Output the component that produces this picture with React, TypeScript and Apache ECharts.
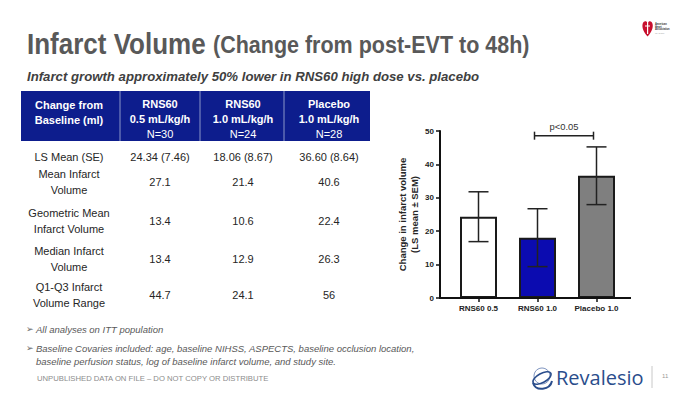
import React, { useEffect, useRef } from 'react';
import * as echarts from 'echarts';

// ---------- data ----------
const categories = ['RNS60 0.5', 'RNS60 1.0', 'Placebo 1.0'];
const lsMean = [24.34, 18.06, 36.6];
const semValues = [7.46, 8.67, 8.64];
const barFills = ['#ffffff', '#0b0bb0', '#7f7f7f'];
const yMin = 0;
const yMax = 50;
const yStep = 10;
const sigPair = [1, 2];
const sigLevel = 48.6;
const sigLabel = 'p<0.05';

const headerCells = [
  ['Change from', 'Baseline (ml)'],
  ['RNS60', '0.5 mL/kg/h', 'N=30'],
  ['RNS60', '1.0 mL/kg/h', 'N=24'],
  ['Placebo', '1.0 mL/kg/h', 'N=28'],
];
const rowLabels = [
  ['LS Mean (SE)'],
  ['Mean Infarct', 'Volume'],
  ['Geometric Mean', 'Infarct Volume'],
  ['Median Infarct', 'Volume'],
  ['Q1-Q3 Infarct', 'Volume Range'],
];
const meanRow = ['27.1', '21.4', '40.6'];
const geoMeanRow = ['13.4', '10.6', '22.4'];
const medianRow = ['13.4', '12.9', '26.3'];
const iqrRow = ['44.7', '24.1', '56'];

const FONT = '"Liberation Sans", Arial, sans-serif';

function txt(x: number, y: number, text: string, o: any = {}) {
  const align = o.align || 'left';
  const va = o.va || 'middle';
  return {
    type: 'text',
    x,
    y,
    scaleY: o.scaleY || 1,
    silent: true,
    z: 10,
    style: {
      text,
      fill: o.fill || '#262626',
      fontSize: o.size || 11,
      fontWeight: o.weight || 'normal',
      fontStyle: o.style || 'normal',
      fontFamily: o.family || FONT,
      lineHeight: o.lh,
      align,
      textAlign: align,
      verticalAlign: va,
      textVerticalAlign: va,
    },
  };
}

export default function App() {
  const ref = useRef<HTMLDivElement>(null);

  useEffect(() => {
    if (!ref.current) return;
    echarts.graphic.registerShape(
      'heart',
      echarts.graphic.extendPath(
        'M10 30 C 2 22, 0 14, 1 9 C 2 3, 8 2, 10 7 C 12 2, 18 3, 19 9 C 20 14, 18 22, 10 30 Z',
        {}
      )
    );
    const chart = echarts.init(ref.current, null, { renderer: 'svg' });

    const gridLeft = 449;
    const gridTop = 131;
    const gridWidth = 177;
    const gridHeight = 167;
    const yOffset = 9;

    const errData = categories.map((_, i) => [i, lsMean[i] - semValues[i], lsMean[i] + semValues[i]]);

    chart.setOption({
      animation: false,
      backgroundColor: '#ffffff',
      grid: { left: gridLeft, top: gridTop, width: gridWidth, height: gridHeight },
      xAxis: {
        type: 'category',
        data: categories,
        axisLine: { show: false },
        axisTick: { show: true, alignWithLabel: true, length: 4, lineStyle: { color: '#111', width: 1.5 } },
        axisLabel: { color: '#222', fontSize: 8, fontWeight: 'bold', fontFamily: FONT, margin: 6 },
        splitLine: { show: false },
      },
      yAxis: {
        type: 'value',
        min: yMin,
        max: yMax,
        interval: yStep,
        offset: yOffset,
        axisLine: { show: true, lineStyle: { color: '#111', width: 2 } },
        axisTick: { show: true, length: 4, lineStyle: { color: '#111', width: 1.5 } },
        axisLabel: { color: '#222', fontSize: 8, fontWeight: 'bold', fontFamily: FONT, margin: 6 },
        splitLine: { show: false },
        name: 'Change in infarct volume\n(LS mean ± SEM)',
        nameLocation: 'middle',
        nameGap: 20,
        nameRotate: 90,
        nameTextStyle: { color: '#262626', fontSize: 9.5, fontWeight: 'bold', fontFamily: FONT, lineHeight: 12 },
      },
      series: [
        {
          type: 'bar',
          barWidth: 37,
          data: lsMean.map((v, i) => ({
            value: v,
            itemStyle: { color: barFills[i], borderColor: '#1a1a1a', borderWidth: 2 },
          })),
          z: 2,
        },
        {
          type: 'custom',
          z: 5,
          data: errData,
          renderItem: (params: any, api: any) => {
            const x = api.value(0);
            const lo = api.coord([x, api.value(1)]);
            const hi = api.coord([x, api.value(2)]);
            const w = 10;
            const st = { stroke: '#222', lineWidth: 1.5 };
            return {
              type: 'group',
              children: [
                { type: 'line', shape: { x1: lo[0], y1: lo[1], x2: hi[0], y2: hi[1] }, style: st },
                { type: 'line', shape: { x1: lo[0] - w, y1: lo[1], x2: lo[0] + w, y2: lo[1] }, style: st },
                { type: 'line', shape: { x1: hi[0] - w, y1: hi[1], x2: hi[0] + w, y2: hi[1] }, style: st },
              ],
            };
          },
        },
        {
          type: 'custom',
          z: 5,
          data: [[sigPair[0], sigPair[1], sigLevel]],
          renderItem: (params: any, api: any) => {
            const a = api.coord([api.value(0), api.value(2)]);
            const b = api.coord([api.value(1), api.value(2)]);
            const st = { stroke: '#222', lineWidth: 1.5 };
            return {
              type: 'group',
              children: [
                { type: 'line', shape: { x1: a[0] - 3, y1: a[1], x2: b[0] - 3, y2: b[1] }, style: st },
                { type: 'line', shape: { x1: a[0] - 3, y1: a[1] - 4, x2: a[0] - 3, y2: a[1] + 4 }, style: st },
                { type: 'line', shape: { x1: b[0] - 3, y1: b[1] - 4, x2: b[0] - 3, y2: b[1] + 4 }, style: st },
                {
                  type: 'text',
                  x: (a[0] + b[0]) / 2 - 3,
                  y: a[1] - 9,
                  style: {
                    text: sigLabel,
                    fill: '#333',
                    fontSize: 9.4,
                    fontFamily: FONT,
                    align: 'center',
                    verticalAlign: 'middle',
                    textAlign: 'center',
                    textVerticalAlign: 'middle',
                  },
                },
              ],
            };
          },
        },
      ],
    });

    const y0 = chart.convertToPixel({ yAxisIndex: 0 }, yMin) as number;

    // ----- table -----
    const colEdges = [21, 120, 200, 284, 370];
    const colCenters = [69, 160, 243, 329];
    const rowCenters = [157, 182, 221, 259, 295];
    const lineGap = 16;
    const headerTop = 91;
    const headerH = 50;
    const lsRow = lsMean.map((v, i) => `${v.toFixed(2)} (${semValues[i].toFixed(2)})`);
    const bodyRows = [lsRow, meanRow, geoMeanRow, medianRow, iqrRow];

    const g: any[] = [];
    g.push({
      type: 'rect',
      shape: { x: colEdges[0], y: headerTop, width: colEdges[4] - colEdges[0], height: headerH },
      style: { fill: '#0d1d8d' },
      silent: true,
    });
    for (let i = 1; i < 4; i++) {
      g.push({
        type: 'line',
        shape: { x1: colEdges[i], y1: headerTop, x2: colEdges[i], y2: headerTop + headerH },
        style: { stroke: '#8b97c8', lineWidth: 1 },
        silent: true,
      });
    }
    headerCells.forEach((cell, ci) => {
      const cx = colCenters[ci];
      if (ci === 0) {
        g.push(txt(cx, 105, cell[0], { align: 'center', fill: '#fff', weight: 'bold' }));
        g.push(txt(cx, 120, cell[1], { align: 'center', fill: '#fff', weight: 'bold' }));
      } else {
        g.push(txt(cx, 104, cell[0], { align: 'center', fill: '#fff', weight: 'bold' }));
        g.push(txt(cx, 119, cell[1], { align: 'center', fill: '#fff', weight: 'bold' }));
        g.push(txt(cx, 133.5, cell[2], { align: 'center', fill: '#fff' }));
      }
    });
    rowLabels.forEach((lines, ri) => {
      const n = lines.length;
      lines.forEach((ln, li) => {
        const y = rowCenters[ri] + (li - (n - 1) / 2) * lineGap;
        g.push(txt(colCenters[0], y, ln, { align: 'center' }));
      });
      bodyRows[ri].forEach((v, ci) => {
        g.push(txt(colCenters[ci + 1], rowCenters[ri], v, { align: 'center' }));
      });
    });

    // ----- titles -----
    g.push(txt(27, 58, 'Infarct Volume', { size: 26, weight: 'bold', fill: '#595959', va: 'bottom', scaleY: 1.1 }));
    g.push(
      txt(213, 57, '(Change from post-EVT to 48h)', { size: 21.5, weight: 'bold', fill: '#595959', va: 'bottom', scaleY: 1.1 })
    );
    g.push(
      txt(27, 76, 'Infarct growth approximately 50% lower in RNS60 high dose vs. placebo', {
        size: 13.2,
        weight: 'bold',
        style: 'italic',
        fill: '#404040',
      })
    );

    // ----- bullets -----
    const bulletColor = '#595959';
    const arrowFont = '"DejaVu Sans", sans-serif';
    g.push(txt(26, 329, '➢', { size: 9, fill: '#666', family: arrowFont }));
    g.push(txt(36, 329, 'All analyses on ITT population', { size: 9.5, style: 'italic', fill: bulletColor }));
    g.push(txt(26, 348, '➢', { size: 9, fill: '#666', family: arrowFont }));
    g.push(
      txt(36, 348, 'Baseline Covaries included: age, baseline NIHSS, ASPECTS, baseline occlusion location,', {
        size: 9.5,
        style: 'italic',
        fill: bulletColor,
      })
    );
    g.push(
      txt(36, 361, 'baseline perfusion status, log of baseline infarct volume, and study site.', {
        size: 9.5,
        style: 'italic',
        fill: bulletColor,
      })
    );
    g.push(txt(37, 378, 'UNPUBLISHED DATA ON FILE – DO NOT COPY OR DISTRIBUTE', { size: 7.7, fill: '#8c8c8c' }));

    // ----- Revalesio logo -----
    g.push({
      type: 'group',
      silent: true,
      children: [
        { type: 'circle', shape: { cx: 542, cy: 376, r: 8 }, style: { fill: 'none', stroke: '#7f95c0', lineWidth: 1 } },
        {
          type: 'ellipse',
          shape: { cx: 0, cy: 0, rx: 10, ry: 4.5 },
          x: 542,
          y: 378,
          rotation: 0.5,
          style: { fill: 'none', stroke: '#2a4d8c', lineWidth: 1.6 },
        },
        {
          type: 'bezierCurve',
          shape: { x1: 533, y1: 383, cpx1: 536, cpy1: 392, cpx2: 550, cpy2: 390, x2: 552, y2: 381 },
          style: { fill: 'none', stroke: '#2a4d8c', lineWidth: 2 },
        },
      ],
    });
    g.push(txt(556, 377, 'Revalesio', { size: 20, fill: '#2a4d8c', family: '"Open Sans", "Liberation Sans", sans-serif' }));
    g.push({
      type: 'line',
      shape: { x1: 652, y1: 366, x2: 652, y2: 388 },
      style: { stroke: '#c8c8c8', lineWidth: 1 },
      silent: true,
    });
    g.push(txt(662, 376, '11', { size: 6, fill: '#9a9a9a' }));

    // ----- AHA logo -----
    g.push({
      type: 'heart',
      x: 642,
      y: 19,
      scaleX: 0.56,
      scaleY: 0.58,
      style: { fill: '#c8102e' },
      silent: true,
    });
    g.push({
      type: 'line',
      shape: { x1: 647.6, y1: 20, x2: 647.6, y2: 34 },
      style: { stroke: '#ffffff', lineWidth: 1.2 },
      silent: true,
    });
    g.push({
      type: 'line',
      shape: { x1: 645, y1: 26, x2: 650, y2: 26 },
      style: { stroke: '#ffffff', lineWidth: 1 },
      silent: true,
    });
    g.push(txt(655, 27, 'American\nHeart\nAssociation', { size: 2.6, fill: '#333', lh: 2.8, weight: 'bold' }));
    g.push(txt(655, 33, 'life is why', { size: 2.2, fill: '#999' }));

    // ----- x axis line -----
    g.push({
      type: 'line',
      z: 20,
      shape: { x1: gridLeft - yOffset - 1, y1: y0, x2: gridLeft + gridWidth + 5, y2: y0 },
      style: { stroke: '#111', lineWidth: 2 },
      silent: true,
    });

    chart.setOption({ graphic: g });

    return () => {
      chart.dispose();
    };
  }, []);

  return (
    <div
      ref={ref}
      style={{ position: 'absolute', left: 0, top: 0, width: 693, height: 399, background: '#fff' }}
    />
  );
}
